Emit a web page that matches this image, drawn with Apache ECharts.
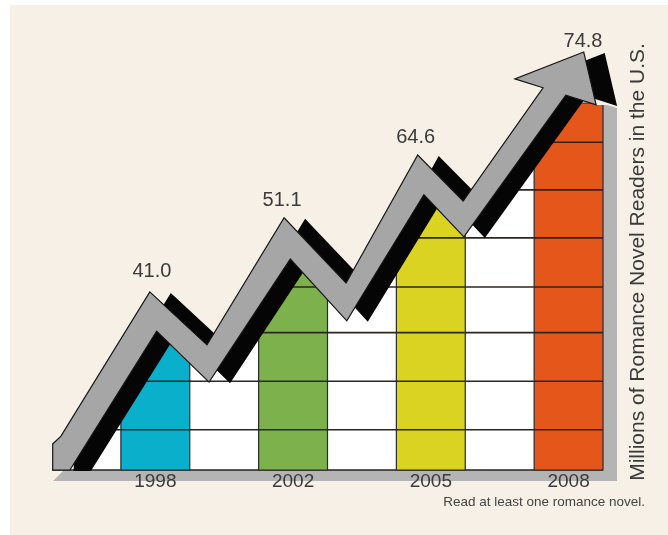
<!DOCTYPE html>
<html>
<head>
<meta charset="utf-8">
<title>Romance Novel Readers</title>
<script src="https://cdn.jsdelivr.net/npm/echarts@6/dist/echarts.min.js"></script>
<style>
    html, body {margin: 0; padding: 0; background: #fff;}
    #chart {width: 668px; height: 535px;}
</style>
</head>
<body>
<div id="chart"></div>
<script>
//年份与读者人数（百万）
var years = ["1998", "2002", "2005", "2008"];
var readers = [41.0, 51.1, 64.6, 74.8];
var barColors = ["#0AAFCB", "#7DB14B", "#DBD321", "#E4561A"];
//表格横线（百万）
var rowLines = [8.2, 18.1, 28.0, 37.3, 47.3, 57.1, 66.8];
//箭头轮廓：x 为列单位，y 为百万
var arrowTopX = [0.01, 0.13, 1.42, 2.25, 3.37, 4.27, 5.31, 5.97, 7.13, 6.72, 7.72, 7.90];
var arrowTopY = [5.3, 6.9, 36.3, 25.5, 51.4, 38.1, 64.2, 54.8, 77.9, 79.7, 85.2, 74.4];
var arrowBottomX = [7.46, 5.98, 5.40, 4.28, 3.46, 2.28, 1.52, 0.26, 0.01];
var arrowBottomY = [76.4, 47.5, 56.1, 30.4, 43.0, 17.9, 28.3, 0, 0];
//数值标签位置
var labelX = [1.45, 3.34, 5.28, 7.71];
var labelY = [40.4, 55.0, 67.7, 87.4];

var font = '"Liberation Sans", Arial, sans-serif';
var chart = echarts.init(document.getElementById("chart"));

/*数据点转像素*/
function toPoints(xs, ys, api, dx, dy) {
    return xs.map(function (x, i) {
        var p = api.coord([x, ys[i]]);
        return [p[0] + (dx || 0), p[1] + (dy || 0)];
    });
}

function arrowPoints(api, dx, dy) {
    return toPoints(arrowTopX, arrowTopY, api, dx, dy)
        .concat(toPoints(arrowBottomX, arrowBottomY, api, dx, dy));
}

function layer(z, render, data) {
    return {
        type: "custom",
        z: z,
        silent: true,
        clip: false,
        data: data || [0],
        renderItem: render
    };
}

var option = {
    backgroundColor: "#F7F0E6",
    animation: false,
    grid: {left: 52, right: 65, top: 102, bottom: 65},
    xAxis: {
        type: "value",
        z: 20,
        min: 0,
        max: 8,
        interval: 0.5,
        axisLine: {show: false},
        axisTick: {show: false},
        splitLine: {show: false},
        axisLabel: {
            margin: 2,
            fontSize: 19,
            fontFamily: font,
            color: "#3a3a3a",
            formatter: function (v) {
                var i = (v - 1.5) / 2;
                return (i === Math.round(i) && years[i]) ? years[i] : "";
            }
        }
    },
    yAxis: {type: "value", min: 0, max: 75, show: false},
    graphic: [
        {type: "rect", left: 0, top: 0, shape: {width: 10, height: 535}, style: {fill: "#fff"}},
        {type: "rect", left: 0, top: 0, shape: {width: 668, height: 5}, style: {fill: "#fff"}},
        {
            type: "text", x: 638, y: 262, rotation: Math.PI / 2, z: 100,
            style: {
                text: "Millions of Romance Novel Readers in the U.S.",
                font: '21px ' + font, fill: "#3a3a3a",
                align: "center", verticalAlign: "middle"
            }
        },
        {
            type: "text", x: 645, y: 502, z: 100,
            style: {
                text: "Read at least one romance novel.",
                font: '13.5px ' + font, fill: "#444",
                align: "right", verticalAlign: "middle"
            }
        }
    ],
    series: [
        //底部阴影
        layer(1, function (params, api) {
            var bl = api.coord([0, 0]);
            var tr = api.coord([8, 75]);
            return {
                type: "polygon",
                shape: {points: [[bl[0] + 1, bl[1] + 11], [bl[0] + 12, bl[1]], [tr[0], bl[1]],
                    [tr[0], tr[1] + 2], [tr[0] + 14, tr[1] + 6], [tr[0] + 14, bl[1] + 11]]},
                style: {fill: "#B4B4B4"}
            };
        }),
        //白色表格
        layer(2, function (params, api) {
            var tl = api.coord([0, 75]);
            var br = api.coord([8, 0]);
            return {
                type: "group",
                children: [
                    {type: "rect", shape: {x: tl[0], y: tl[1], width: br[0] - tl[0], height: br[1] - tl[1]},
                        style: {fill: "#fff"}},
                    {type: "line", shape: {x1: tl[0], y1: br[1], x2: br[0], y2: br[1]},
                        style: {stroke: "#222", lineWidth: 1.6}}
                ]
            };
        }),
        //柱子
        layer(3, function (params, api) {
            var i = api.value(0);
            var p0 = api.coord([2 * i + 1, api.value(1)]);
            var p1 = api.coord([2 * i + 2, 0]);
            return {
                type: "rect",
                shape: {x: p0[0], y: p0[1], width: p1[0] - p0[0], height: p1[1] - p0[1]},
                style: {fill: barColors[i], stroke: "#2a2a2a", lineWidth: 1.2}
            };
        }, readers.map(function (v, i) { return [i, v]; })),
        //横线
        layer(4, function (params, api) {
            var a = api.coord([0, api.value(0)]);
            var b = api.coord([8, api.value(0)]);
            return {
                type: "line",
                shape: {x1: a[0], y1: a[1], x2: b[0], y2: b[1]},
                style: {stroke: "#2b2622", lineWidth: 1.6}
            };
        }, rowLines),
        //箭头上方遮罩
        layer(5, function (params, api) {
            var top = toPoints(arrowTopX, arrowTopY, api);
            var first = top[0];
            var last = top[top.length - 1];
            var pts = [[first[0] - 20, first[1]]].concat(top,
                [[last[0] + 25, last[1]], [last[0] + 25, 5], [first[0] - 20, 5]]);
            return {type: "polygon", shape: {points: pts}, style: {fill: "#F7F0E6"}};
        }),
        //箭头阴影
        layer(6, function (params, api) {
            return {type: "polygon", shape: {points: arrowPoints(api, 21, 1)}, style: {fill: "#050505"}};
        }),
        //箭头
        layer(7, function (params, api) {
            return {
                type: "polygon",
                shape: {points: arrowPoints(api)},
                style: {fill: "#A6A6A6", stroke: "#151515", lineWidth: 1.2}
            };
        }),
        //数值标签
        layer(8, function (params, api) {
            var i = api.value(0);
            var p = api.coord([labelX[i], labelY[i]]);
            return {
                type: "text",
                style: {
                    text: readers[i].toFixed(1), x: p[0], y: p[1],
                    font: '20px ' + font, fill: "#3a3a3a",
                    align: "center", verticalAlign: "middle"
                }
            };
        }, readers.map(function (v, i) { return [i, v]; }))
    ]
};

chart.setOption(option);
</script>
</body>
</html>
